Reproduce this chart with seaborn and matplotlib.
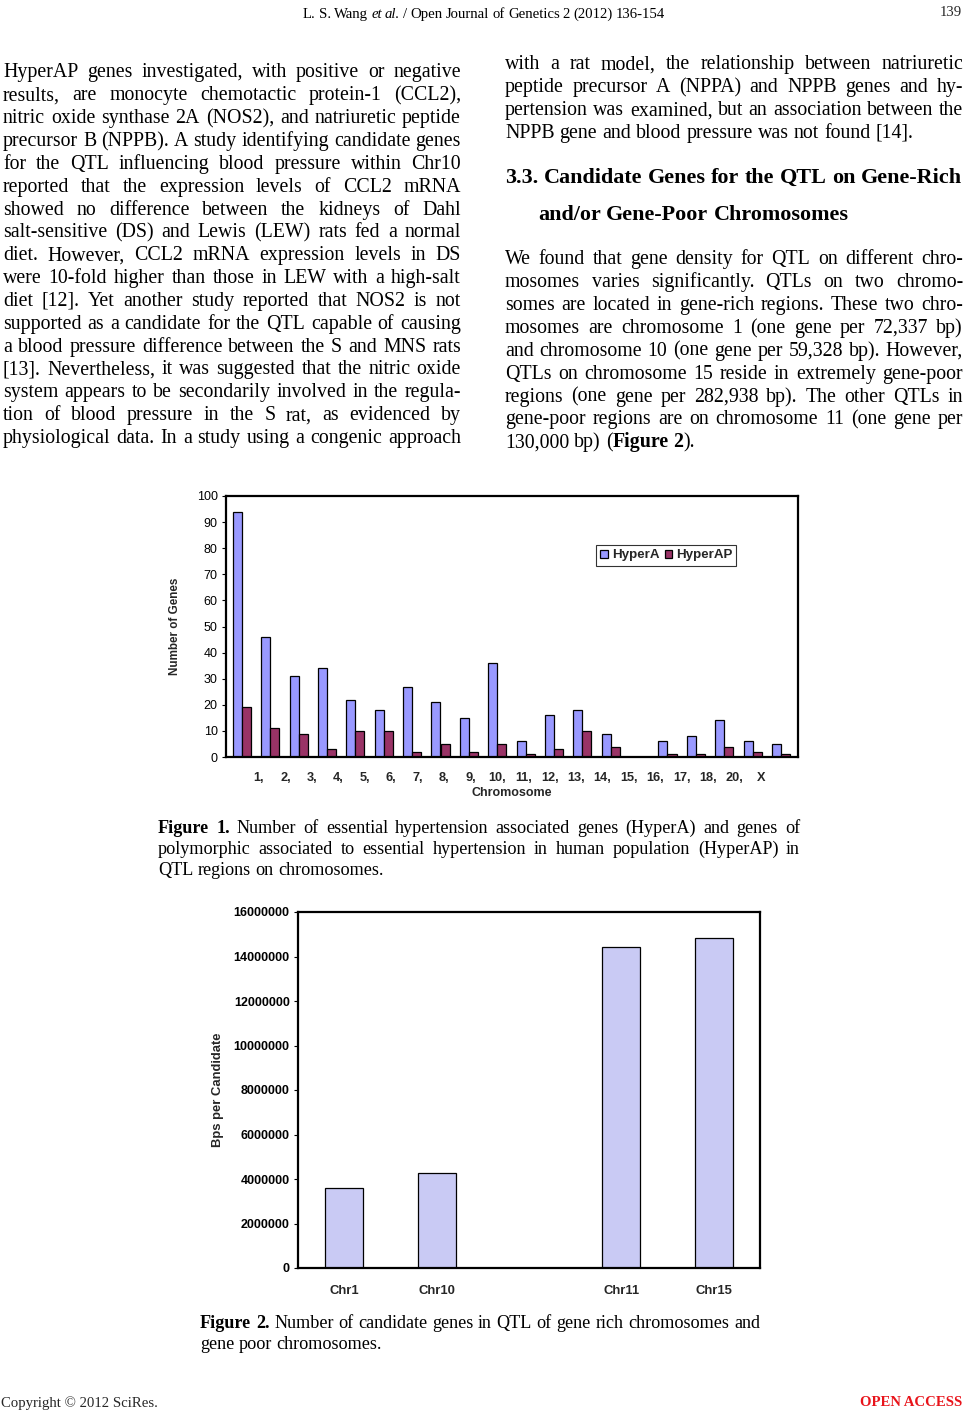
import matplotlib
matplotlib.use("Agg")

import numpy as np
import pandas as pd
import matplotlib.pyplot as plt
import seaborn as sns

# ---- data -------------------------------------------------------------
chromosomes = ["1", "2", "3", "4", "5", "6", "7", "8", "9", "10",
               "11", "12", "13", "14", "15", "16", "17", "18", "20", "X"]
tick_labels_fig1 = ["1,", "2,", "3,", "4,", "5,", "6,", "7,", "8,", "9,", "10,",
                    "11,", "12,", "13,", "14,", "15,", "16,", "17,", "18,", "20,", "X"]
hyper_a = [94, 46, 31, 34, 22, 18, 27, 21, 15, 36,
           6, 16, 18, 9, 0, 6, 8, 14, 6, 5]
hyper_ap = [19, 11, 9, 3, 10, 10, 2, 5, 2, 5,
            1, 3, 10, 4, 0, 1, 1, 4, 2, 1]

fig2_chr = ["Chr1", "Chr10", "Chr11", "Chr15"]
fig2_order = ["Chr1", "Chr10", " ", "Chr11", "Chr15"]
bps_per_candidate = [3600000, 4260000, 14420000, 14850000]

W, H = 965, 1414
SERIF = "Liberation Serif"
SANS = "Liberation Sans"

sns.set_theme(style="white")
plt.rcParams["font.family"] = [SANS, "DejaVu Sans"]

fig = plt.figure(figsize=(W / 100, H / 100), dpi=100)
fig.patch.set_facecolor("white")
renderer = fig.canvas.get_renderer()


def fx(x):
    return x / W


def fy(y):
    return 1 - y / H


def parse_tokens(line):
    # '*' toggles bold, '_' toggles italic
    tokens = []
    bold = False
    ital = False
    for word in line.split(" "):
        runs = []
        buf = ""
        for ch in word:
            if ch in "*_":
                if buf:
                    runs.append((buf, bold, ital))
                    buf = ""
                if ch == "*":
                    bold = not bold
                else:
                    ital = not ital
            else:
                buf += ch
        if buf:
            runs.append((buf, bold, ital))
        if runs:
            tokens.append(runs)
    return tokens


def text_w(s, size, family=SERIF, bold=False, ital=False):
    t = fig.text(0, 0, s, fontsize=size, family=family,
                 weight="bold" if bold else "normal",
                 style="italic" if ital else "normal")
    w = t.get_window_extent(renderer).width
    t.remove()
    return w


def space_w(size, family=SERIF, bold=False):
    return text_w("a a", size, family, bold) - text_w("aa", size, family, bold)


def natural_w(line, size, family=SERIF):
    tokens = parse_tokens(line)
    total = 0
    for runs in tokens:
        for text, bold, ital in runs:
            total += text_w(text, size, family, bold, ital)
    return total + space_w(size, family) * (len(tokens) - 1)


def fit_size(lines, width, family=SERIF):
    widest = max(natural_w(l, 10, family) for l in lines)
    return 10 * width / widest


def draw_line(x0, x1, yc, line, size, justify=True, family=SERIF, color="black"):
    tokens = parse_tokens(line)
    base = yc + size * 0.45
    objs = []
    widths = []
    for runs in tokens:
        tw = 0
        row = []
        for text, bold, ital in runs:
            t = fig.text(0, fy(base), text, fontsize=size, family=family,
                         weight="bold" if bold else "normal",
                         style="italic" if ital else "normal",
                         va="baseline", ha="left", color=color)
            w = t.get_window_extent(renderer).width
            row.append((t, w))
            tw += w
        objs.append(row)
        widths.append(tw)
    if justify and len(tokens) > 1:
        gap = (x1 - x0 - sum(widths)) / (len(tokens) - 1)
    else:
        gap = space_w(size, family)
    x = x0
    for row, tw in zip(objs, widths):
        cx = x
        for t, w in row:
            t.set_x(fx(cx))
            cx += w
        x += tw + gap


def draw_block(x0, x1, y0, step, lines, size, last_ragged=True, **kw):
    for i, line in enumerate(lines):
        ragged = last_ragged and i == len(lines) - 1
        draw_line(x0, x1, y0 + i * step, line, size, justify=not ragged, **kw)


STEP = 22.85

# ---- body text --------------------------------------------------------
left_lines = [
    "HyperAP genes investigated, with positive or negative",
    "results, are monocyte chemotactic protein-1 (CCL2),",
    "nitric oxide synthase 2A (NOS2), and natriuretic peptide",
    "precursor B (NPPB). A study identifying candidate genes",
    "for the QTL influencing blood pressure within Chr10",
    "reported that the expression levels of CCL2 mRNA",
    "showed no difference between the kidneys of Dahl",
    "salt-sensitive (DS) and Lewis (LEW) rats fed a normal",
    "diet. However, CCL2 mRNA expression levels in DS",
    "were 10-fold higher than those in LEW with a high-salt",
    "diet [12]. Yet another study reported that NOS2 is not",
    "supported as a candidate for the QTL capable of causing",
    "a blood pressure difference between the S and MNS rats",
    "[13]. Nevertheless, it was suggested that the nitric oxide",
    "system appears to be secondarily involved in the regula-",
    "tion of blood pressure in the S rat, as evidenced by",
    "physiological data. In a study using a congenic approach",
]
right_top = [
    "with a rat model, the relationship between natriuretic",
    "peptide precursor A (NPPA) and NPPB genes and hy-",
    "pertension was examined, but an association between the",
    "NPPB gene and blood pressure was not found [14].",
]
right_para = [
    "We found that gene density for QTL on different chro-",
    "mosomes varies significantly. QTLs on two chromo-",
    "somes are located in gene-rich regions. These two chro-",
    "mosomes are chromosome 1 (one gene per 72,337 bp)",
    "and chromosome 10 (one gene per 59,328 bp). However,",
    "QTLs on chromosome 15 reside in extremely gene-poor",
    "regions (one gene per 282,938 bp). The other QTLs in",
    "gene-poor regions are on chromosome 11 (one gene per",
    "130,000 bp) (*Figure 2*).",
]

LX0, LX1 = 3, 461
RX0, RX1 = 505, 963
BODY = fit_size(left_lines + right_top[:3] + right_para[:8], LX1 - LX0)

draw_block(LX0, LX1, 71, STEP, left_lines, BODY, last_ragged=False)
draw_block(RX0, RX1, 63, STEP, right_top, BODY)

head1 = "*3.3. Candidate Genes for the QTL on Gene-Rich*"
HEAD = fit_size([head1], RX1 - 1 - RX0)
draw_line(RX0, RX1 - 1, 176, head1, HEAD)
draw_line(538, RX1, 213, "*and/or Gene-Poor Chromosomes*", HEAD, justify=False)

draw_block(RX0, RX1, 258, STEP, right_para, BODY)

# ---- header / footer --------------------------------------------------
draw_line(303, 665, 13, "L. S. Wang _et al._ / Open Journal of Genetics 2 (2012) 136-154",
          10.6, justify=True)
fig.text(fx(962), fy(13), "139", fontsize=10.6, family=SERIF, ha="right", va="center")
fig.text(fx(1), fy(1403), "Copyright \u00a9 2012 SciRes.", fontsize=10.6, family=SERIF,
         ha="left", va="center")
fig.text(fx(962), fy(1403), "OPEN ACCESS", fontsize=10.6, family=SERIF, weight="bold",
         color="#e8141b", ha="right", va="center")

# ---- captions ---------------------------------------------------------
cap1 = [
    "*Figure 1.* Number of essential hypertension associated genes (HyperA) and genes of",
    "polymorphic associated to essential hypertension in human population (HyperAP) in",
    "QTL regions on chromosomes.",
]
cap2 = [
    "*Figure 2.* Number of candidate genes in QTL of gene rich chromosomes and",
    "gene poor chromosomes.",
]
CAP = fit_size(cap2[:1], 760 - 200)
draw_block(158, 800, 827, 21, cap1, CAP)
draw_block(200, 760, 1322, 21, cap2, CAP)

# ---- figure 1 ---------------------------------------------------------
ax1 = fig.add_axes([fx(226), fy(757), (798 - 226) / W, (757 - 496) / H])
df1 = pd.DataFrame({
    "Chromosome": chromosomes * 2,
    "Genes": hyper_a + hyper_ap,
    "Set": ["HyperA"] * len(chromosomes) + ["HyperAP"] * len(chromosomes),
})
sns.barplot(data=df1, x="Chromosome", y="Genes", hue="Set", order=chromosomes,
            palette={"HyperA": "#9999ff", "HyperAP": "#993366"},
            width=0.64, edgecolor="black", linewidth=0.9, saturation=1, ax=ax1)
ax1.set_xlim(-0.56, 19.6)
ax1.set_ylim(0, 100)
ax1.set_yticks(range(0, 101, 10))
ax1.tick_params(axis="y", direction="out", length=3, width=0.8, pad=3,
                labelsize=9, colors="black", left=True)
ax1.set_xticks(np.linspace(0.6, 18.3, len(tick_labels_fig1)))
ax1.set_xticklabels(tick_labels_fig1, fontsize=9.2, weight="bold")
ax1.tick_params(axis="x", length=0, pad=11)
for s in ax1.spines.values():
    s.set_color("black")
    s.set_linewidth(1.6)
ax1.set_ylabel("Number of Genes", fontsize=8.4, weight="bold", labelpad=11)
ax1.set_xlabel("Chromosome", fontsize=9, weight="bold", labelpad=2)
leg = ax1.legend(loc="upper left", bbox_to_anchor=(0.647, 0.812), ncol=2,
                 fontsize=9.6, frameon=True, fancybox=False, handlelength=0.55,
                 handleheight=0.55, handletextpad=0.3, columnspacing=0.4,
                 borderpad=0.32, borderaxespad=0)
leg.get_frame().set_edgecolor("black")
leg.get_frame().set_linewidth(0.8)
for t in leg.get_texts():
    t.set_weight("bold")

# ---- figure 2 ---------------------------------------------------------
ax2 = fig.add_axes([fx(298), fy(1268), (760 - 298) / W, (1268 - 912) / H])
df2 = pd.DataFrame({"Chr": fig2_chr, "Bps": bps_per_candidate})
sns.barplot(data=df2, x="Chr", y="Bps", order=fig2_order, color="#c9caf4",
            width=0.41, edgecolor="black", linewidth=0.9, saturation=1, ax=ax2)
ax2.set_xlim(-0.5, 4.5)
ax2.set_ylim(0, 16000000)
ax2.set_yticks(range(0, 16000001, 2000000))
ax2.set_yticklabels([str(v) for v in range(0, 16000001, 2000000)],
                    fontsize=9, weight="bold")
ax2.tick_params(axis="y", direction="out", length=3, width=0.8, pad=3,
                colors="black", left=True)
ax2.set_xticks(range(len(fig2_order)))
ax2.set_xticklabels(fig2_order, fontsize=9.4, weight="bold")
ax2.tick_params(axis="x", length=0, pad=12)
for s in ax2.spines.values():
    s.set_color("black")
    s.set_linewidth(1.6)
ax2.set_ylabel("Bps per Candidate", fontsize=9.4, weight="bold", labelpad=7)
ax2.set_xlabel("")

fig.savefig("out.png", dpi=100, facecolor="white")
